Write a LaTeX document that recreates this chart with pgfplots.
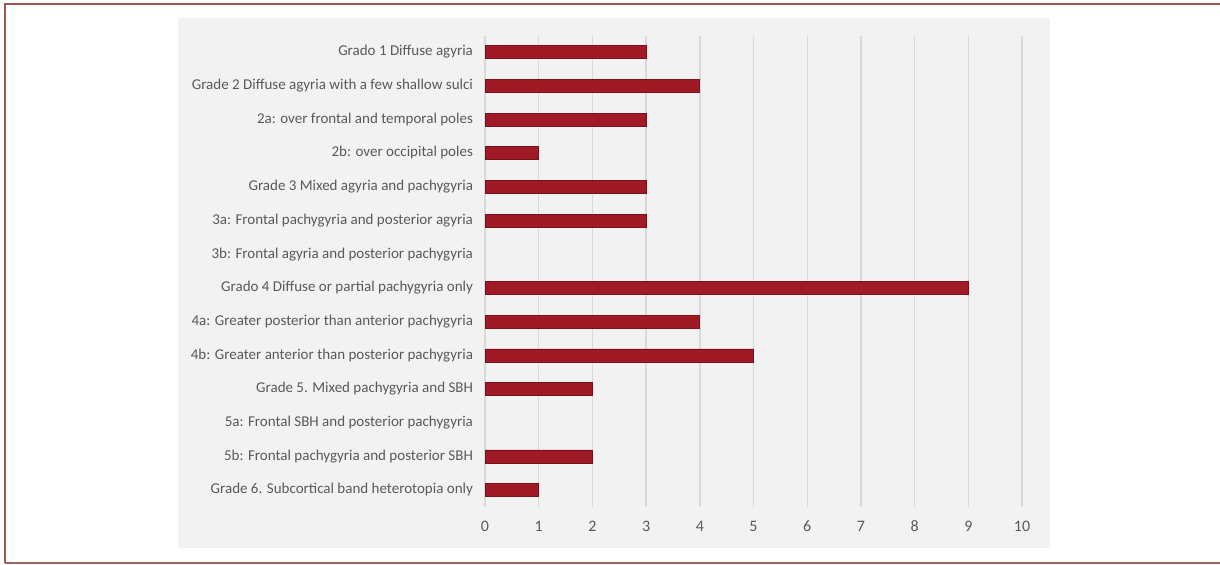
\documentclass[border=0pt]{standalone}
\usepackage{pgfplots}
\pgfplotsset{compat=1.18}
\usepackage{fontspec}
\setmainfont{Carlito}
\definecolor{barred}{HTML}{A01A25}
\definecolor{baredge}{HTML}{7A1019}
\definecolor{txtgray}{HTML}{595959}
\definecolor{panel}{HTML}{F2F2F2}
\definecolor{gridc}{HTML}{D9D9D9}
\definecolor{frame}{HTML}{A0564E}
\begin{document}
\begin{tikzpicture}[x=1pt,y=1pt]
\useasboundingbox (0,0) rectangle (610,282);
\fill[panel] (89,8) rectangle (525,273);
\draw[frame,line width=0.8pt] (610,280) -- (2.5,280) -- (2.5,0.5);
\draw[frame!60!gray,line width=0.8pt] (2.5,0.5) -- (610,0.5);
\begin{axis}[
  at={(242.5pt,28.5pt)}, anchor=south west,
  scale only axis, width=268.5pt, height=235.75pt,
  xmin=0, xmax=10, ymin=-0.5, ymax=13.5, y dir=reverse,
  xtick={0,...,10}, ytick={0,...,13},
  yticklabels={{Grado 1 Diffuse agyria},{Grade 2 Diffuse agyria with a few shallow sulci},{2a: over frontal and temporal poles},{2b: over occipital poles},{Grade 3 Mixed agyria and pachygyria},{3a: Frontal pachygyria and posterior agyria},{3b: Frontal agyria and posterior pachygyria},{Grado 4 Diffuse or partial pachygyria only},{4a: Greater posterior than anterior pachygyria},{4b: Greater anterior than posterior pachygyria},{Grade 5. Mixed pachygyria and SBH},{5a: Frontal SBH and posterior pachygyria},{5b: Frontal pachygyria and posterior SBH},{Grade 6. Subcortical band heterotopia only}},
  axis line style={draw=none}, major tick length=0pt,
  xmajorgrids, grid style={gridc, line width=0.7pt},
  yticklabel style={font=\fontsize{7.5}{9}\selectfont, text=txtgray, xshift=-2.5pt},
  xticklabel style={font=\fontsize{8}{9}\selectfont, text=txtgray, yshift=-2.5pt},
  typeset ticklabels with strut,
  /pgf/number format/assume math mode=true,
  xbar, bar width=6.5pt,
]
\addplot[fill=barred, draw=baredge, line width=0.4pt] coordinates {
(3,0) (4,1) (3,2) (1,3) (3,4) (3,5) (9,7) (4,8) (5,9) (2,10) (2,12) (1,13)};
\end{axis}
\end{tikzpicture}
\end{document}
